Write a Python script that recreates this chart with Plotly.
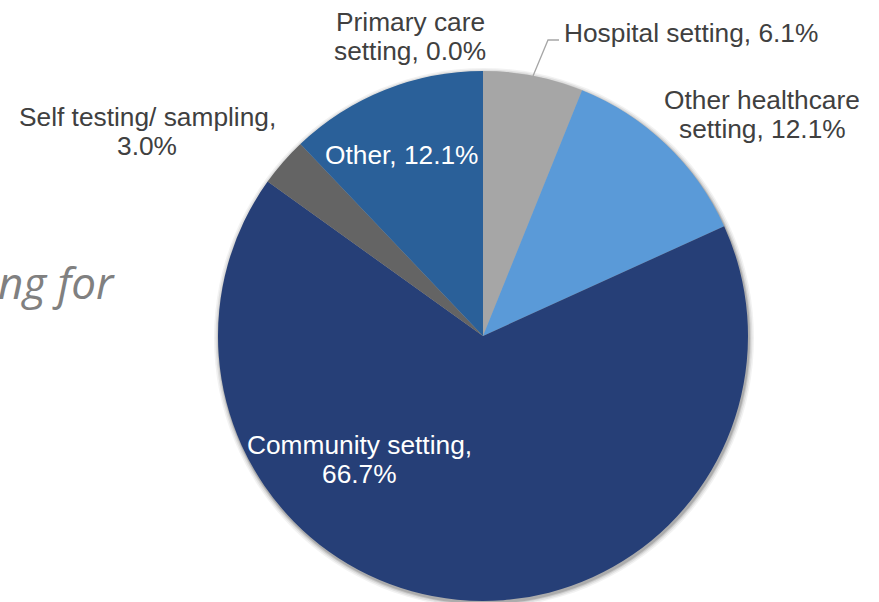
import plotly.graph_objects as go

# Setting in which testing took place
settings = [
    "Primary care setting",
    "Hospital setting",
    "Other healthcare setting",
    "Community setting",
    "Self testing/ sampling",
    "Other",
]
shares = [0.0, 6.1, 12.1, 66.7, 3.0, 12.1]
slice_colors = ["#4a6fa0", "#a6a6a6", "#5a9ad8", "#263f77", "#646464", "#2a6099"]

W, H = 879, 602
CX, CY, R = 483, 336, 265


def px_x(x):
    return x / W


def px_y(y):
    return 1 - y / H


fig = go.Figure()

fig.add_trace(
    go.Pie(
        labels=settings,
        values=shares,
        sort=False,
        direction="clockwise",
        rotation=0,
        marker=dict(colors=slice_colors, line=dict(width=0)),
        textinfo="none",
        hoverinfo="label+percent",
        showlegend=False,
        domain=dict(x=[px_x(CX - R), px_x(CX + R)], y=[px_y(CY + R), px_y(CY - R)]),
    )
)

# soft drop shadow under the pie
shapes = []
for grow, alpha in [(5, 0.05), (3.5, 0.07), (2, 0.10), (1, 0.14)]:
    shapes.append(
        dict(
            type="circle",
            xref="paper",
            yref="paper",
            x0=px_x(CX - R - grow + 1),
            x1=px_x(CX + R + grow + 1),
            y0=px_y(CY + R + grow + 2),
            y1=px_y(CY - R - grow + 2),
            fillcolor=f"rgba(0,0,0,{alpha})",
            line=dict(width=0),
            layer="below",
        )
    )

# leader line for the hospital label
shapes.append(
    dict(
        type="path",
        xref="paper",
        yref="paper",
        path=f"M {px_x(533)},{px_y(76)} L {px_x(548)},{px_y(40)} L {px_x(559)},{px_y(40)}",
        line=dict(color="#a6a6a6", width=1.3),
    )
)

# label placement: (x, xanchor, first-line baseline, words on first line, colour)
label_pos = {
    "Primary care setting": (410, "center", 30, 2, "#404040"),
    "Hospital setting": (562, "left", 41, None, "#404040"),
    "Other healthcare setting": (762, "center", 108, 2, "#404040"),
    "Community setting": (359, "center", 453, 2, "#ffffff"),
    "Self testing/ sampling": (147, "center", 125, 3, "#404040"),
    "Other": (402, "center", 163, None, "#ffffff"),
}
FS = 26.3
LINE = 29

annotations = []
for name, val in zip(settings, shares):
    x, xa, base, split, col = label_pos[name]
    words = f"{name}, {val:.1f}%".split(" ")
    lines = [" ".join(words)] if split is None else [" ".join(words[:split]), " ".join(words[split:])]
    for i, line in enumerate(lines):
        annotations.append(
            dict(
                x=px_x(x),
                y=px_y(base + i * LINE - 8),
                xref="paper",
                yref="paper",
                xanchor=xa,
                yanchor="middle",
                text=line,
                showarrow=False,
                font=dict(family="Liberation Sans, Arial, sans-serif", size=FS, color=col),
            )
        )

# tail of the slide title running behind the chart
annotations.append(
    dict(
        x=px_x(117),
        y=px_y(282),
        xref="paper",
        yref="paper",
        xanchor="right",
        yanchor="middle",
        text="ng for",
        showarrow=False,
        font=dict(family="Open Sans, Noto Sans, sans-serif", size=44, color="#808080", style="italic"),
    )
)

fig.update_layout(
    width=W,
    height=H,
    margin=dict(l=0, r=0, t=0, b=0),
    paper_bgcolor="#ffffff",
    plot_bgcolor="#ffffff",
    shapes=shapes,
    annotations=annotations,
)

fig.write_html("out.html")
